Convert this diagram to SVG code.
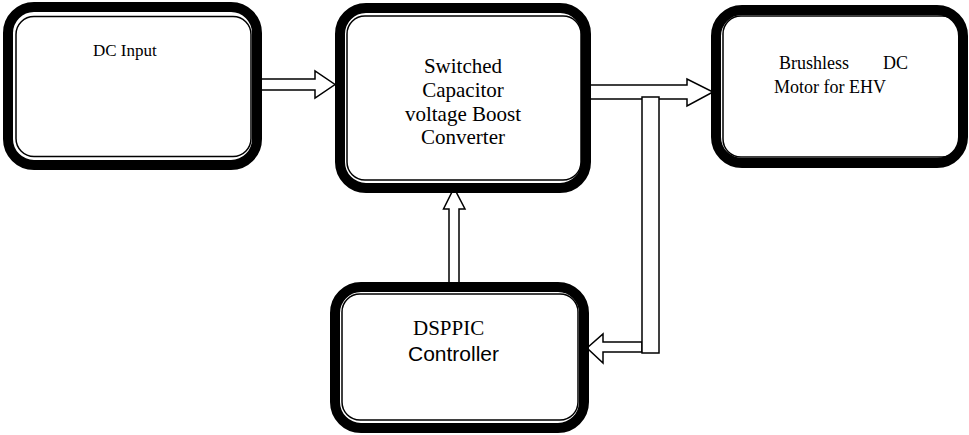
<svg xmlns="http://www.w3.org/2000/svg" width="969" height="435" viewBox="0 0 969 435">
<style>
.band{fill:none;stroke:#000;stroke-width:10}
.thin{fill:none;stroke:#000;stroke-width:1.5}
.arr{fill:#fff;stroke:#000;stroke-width:1.5;stroke-linejoin:miter}
.serif{font-family:"Liberation Serif","Times New Roman",serif;fill:#000}
.sans{font-family:"Liberation Sans",Arial,sans-serif;fill:#000}
</style>
<rect width="969" height="435" fill="#fff"/>
<g id="connectors">
<polygon class="arr" points="260,79 315,79 315,71 335,84.5 315,98 315,90 260,90"/>
<polygon class="arr" points="589,85 687,85 687,79 713,92 687,106 687,99 589,99"/>
<polygon class="arr" points="642,342 603,342 603,334 587,348 603,363 603,352 642,352"/>
<rect class="arr" x="642" y="97" width="17" height="256"/>
<polygon class="arr" points="449,283 449,209 443.5,209 454,188 465,209 459,209 459,283"/>
</g>
<g id="dc-input">
<rect class="band" x="8" y="7" width="249" height="158" rx="26"/>
<rect class="thin" x="16" y="16.5" width="235" height="140" rx="18"/>
<text class="serif" x="93" y="56" font-size="17">DC Input</text>
</g>
<g id="converter">
<rect class="band" x="340" y="8" width="246" height="180" rx="26"/>
<rect class="thin" x="347" y="16" width="234" height="164" rx="18"/>
<text class="serif" x="463" y="73" font-size="21" text-anchor="middle">Switched</text>
<text class="serif" x="463" y="97" font-size="21" text-anchor="middle">Capacitor</text>
<text class="serif" x="463" y="121" font-size="21" text-anchor="middle">voltage Boost</text>
<text class="serif" x="463" y="144" font-size="21" text-anchor="middle">Converter</text>
</g>
<g id="motor">
<rect class="band" x="716" y="10" width="247" height="153" rx="26"/>
<rect class="thin" x="723" y="16" width="237" height="141" rx="18"/>
<text class="serif" x="779" y="69" font-size="18">Brushless</text>
<text class="serif" x="883" y="69" font-size="18">DC</text>
<text class="serif" x="774" y="93" font-size="18">Motor for EHV</text>
</g>
<g id="controller">
<rect class="band" x="335" y="287" width="249" height="141" rx="26"/>
<rect class="thin" x="342" y="294" width="236" height="126" rx="18"/>
<text class="serif" x="413" y="335" font-size="21">DSPPIC</text>
<text class="sans" x="408" y="361" font-size="21">Controller</text>
</g>
</svg>
